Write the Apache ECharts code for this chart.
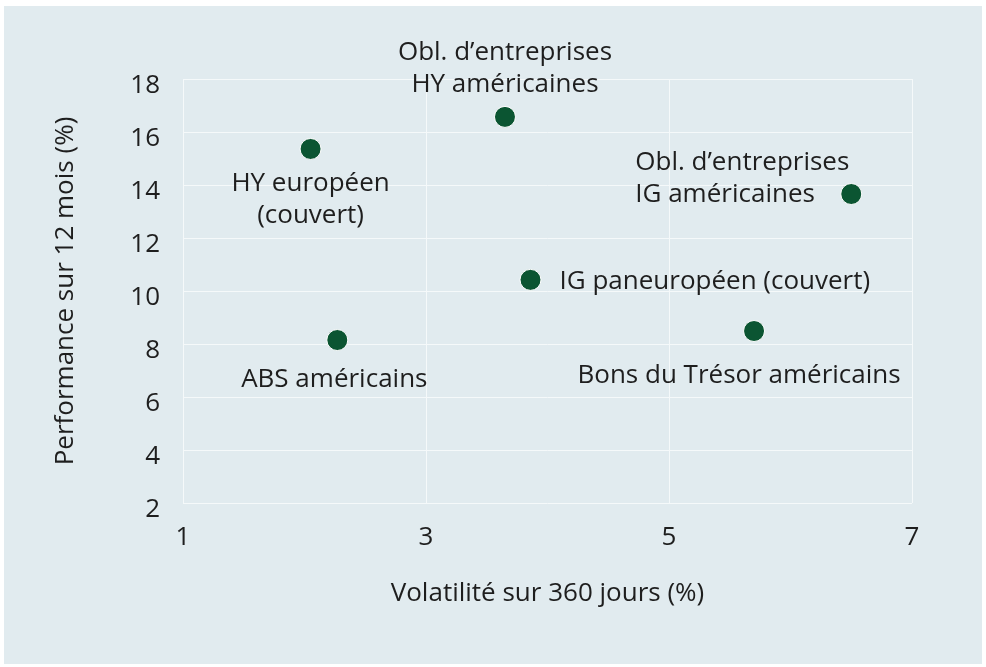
<!DOCTYPE html>
<html><head><meta charset="utf-8">
<script src="https://cdn.jsdelivr.net/npm/echarts@6/dist/echarts.min.js"></script>
<style>html,body{margin:0;padding:0;background:#fff}#c{width:986px;height:667px}</style>
</head><body><div id="c"></div>
<script>
const names = ["HY européen\n(couvert)", "Obl. d’entreprises\nHY américaines", "Obl. d’entreprises\nIG américaines", "IG paneuropéen (couvert)", "ABS américains", "Bons du Trésor américains"];
const volatility = [2.05, 3.65, 6.50, 3.86, 2.27, 5.70];
const performance = [15.36, 16.57, 13.66, 10.42, 8.15, 8.49];
const xTicks = [1, 3, 5, 7];
const yTicks = [2, 4, 6, 8, 10, 12, 14, 16, 18];
const labelPos = [
  {position: 'bottom', distance: 8, align: 'center'},
  {position: 'top', distance: 5, align: 'center'},
  {position: [-205, -36], align: 'left', verticalAlign: 'top'},
  {position: 'right', distance: 18, offset: [0, 2]},
  {position: 'bottom', distance: 13, align: 'center', offset: [-3, 0]},
  {position: 'bottom', distance: 18, align: 'center', offset: [-15, 0]}
];
const font = '"Open Sans", Roboto, sans-serif';
const fs = 26;
const chart = echarts.init(document.getElementById('c'));
chart.setOption({
  backgroundColor: '#ffffff',
  animation: false,
  graphic: [{type: 'rect', z: -10, shape: {x: 4, y: 6, width: 978, height: 658}, style: {fill: '#e1ebef'}}],
  grid: {left: 183, right: 74, top: 79, bottom: 164},
  xAxis: {
    type: 'value', min: 1, max: 7, interval: 2,
    name: 'Volatilité sur 360 jours (%)', nameLocation: 'middle', nameGap: 78,
    nameTextStyle: {fontSize: fs, color: '#1e1e1e', fontFamily: font},
    axisLine: {show: false}, axisTick: {show: false},
    axisLabel: {fontSize: fs, color: '#1e1e1e', margin: 22, fontFamily: font},
    splitLine: {show: true, lineStyle: {color: '#f5f9fa', width: 1}}
  },
  yAxis: {
    type: 'value', min: 2, max: 18, interval: 2,
    name: 'Performance sur 12 mois (%)', nameLocation: 'middle', nameGap: 104,
    nameTextStyle: {fontSize: fs, color: '#1e1e1e', fontFamily: font},
    axisLine: {show: false}, axisTick: {show: false},
    axisLabel: {fontSize: fs, color: '#1e1e1e', margin: 23, fontFamily: font,
      formatter: v => '{a|' + v + '}',
      rich: {a: {fontSize: fs, color: '#1e1e1e', fontFamily: font, padding: [13, 0, 0, 0]}}},
    splitLine: {show: true, lineStyle: {color: '#f5f9fa', width: 1}}
  },
  series: [{
    type: 'scatter',
    symbolSize: 21,
    itemStyle: {color: '#0b5532', opacity: 1, borderColor: '#ffffff', borderWidth: 1},
    data: volatility.map((v, i) => ({
      value: [v, performance[i]],
      name: names[i],
      label: Object.assign({show: true, formatter: names[i], fontSize: fs, lineHeight: 32, color: '#1e1e1e', fontFamily: font}, labelPos[i])
    }))
  }]
});
</script></body></html>
